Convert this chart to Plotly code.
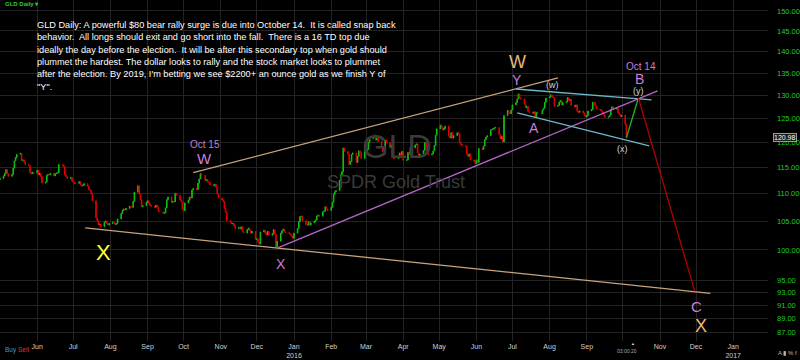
import math
import pandas as pd
import plotly.graph_objects as go

# ---------------- data (GLD daily closes, by month) ----------------
first_open = 112.7
c_2015_05 = [112.9, 113.4, 113.9, 114.6, 113.8, 113.3, 113.6, 114.9, 116.3, 117.0, 117.6, 117.8, 116.4, 116.5, 116.1, 115.6, 115.4, 114.0, 113.8, 114.1, 113.9]
c_2015_06 = [114.5, 113.6, 113.9, 113.3, 112.0, 112.2, 113.5, 113.7, 113.6, 113.9, 113.4, 113.8, 113.9, 114.0, 115.6, 115.5, 115.2, 113.6, 113.3, 112.9, 113.1, 112.4]
c_2015_07 = [112.2, 112.0, 111.9, 112.3, 111.7, 111.5, 111.6, 111.9, 111.4, 110.8, 110.6, 110.1, 108.7, 105.6, 105.1, 104.4, 104.5, 104.0, 104.8, 105.0, 104.6, 104.3, 104.6]
c_2015_08 = [104.8, 104.6, 104.4, 104.6, 105.4, 106.4, 106.9, 107.2, 107.0, 107.3, 107.7, 107.6, 107.5, 108.6, 110.3, 111.5, 110.0, 108.9, 107.6, 107.8, 108.4]
c_2015_09 = [108.7, 108.2, 107.8, 107.7, 107.5, 107.9, 107.6, 106.8, 106.7, 106.4, 106.5, 107.4, 108.9, 109.4, 108.4, 108.6, 108.5, 110.1, 109.7, 108.9, 108.6, 107.2]
c_2015_10 = [106.9, 108.3, 108.8, 109.4, 109.2, 110.7, 111.0, 110.8, 112.0, 112.8, 113.8, 113.5, 112.5, 112.7, 112.2, 112.1, 111.7, 111.5, 111.8, 111.2, 110.0, 109.2]
c_2015_11 = [108.9, 108.6, 107.3, 106.6, 105.1, 104.8, 104.5, 104.6, 104.2, 103.7, 103.9, 103.6, 104.0, 103.2, 102.9, 103.5, 103.8, 103.3, 102.9, 103.2, 101.8]
c_2015_12 = [101.9, 101.3, 101.0, 103.1, 103.4, 102.9, 102.6, 103.2, 102.5, 102.8, 103.5, 102.7, 100.5, 101.5, 102.9, 103.3, 103.6, 103.1, 103.0, 102.8, 102.6, 102.3, 102.0]
c_2016_01 = [102.9, 103.7, 104.9, 105.8, 105.9, 105.1, 104.4, 104.3, 104.9, 104.3, 104.7, 105.0, 105.2, 105.9, 106.1, 105.9, 106.7, 106.8, 107.6, 107.2, 106.9]
c_2016_02 = [107.5, 108.4, 109.9, 110.4, 110.6, 112.5, 113.6, 114.2, 118.9, 118.2, 117.6, 115.6, 116.2, 117.6, 117.9, 116.0, 117.2, 118.3, 118.1, 116.8, 118.6]
c_2016_03 = [117.8, 118.6, 120.0, 120.8, 121.2, 121.5, 120.5, 120.9, 120.2, 118.9, 118.2, 118.3, 120.5, 120.0, 119.0, 119.5, 117.3, 116.8, 116.8, 116.9, 117.9, 117.5, 118.2]
c_2016_04 = [116.4, 116.5, 118.0, 117.6, 119.0, 118.9, 119.5, 119.7, 117.9, 117.0, 117.6, 118.4, 120.0, 119.1, 118.4, 117.5, 117.7, 118.3, 119.4, 121.5, 122.8]
c_2016_05 = [123.6, 123.2, 122.6, 122.9, 123.4, 121.3, 120.9, 122.0, 120.9, 121.4, 122.0, 121.8, 119.9, 119.6, 119.4, 119.2, 117.6, 117.2, 117.7, 116.5, 116.3, 115.8]
c_2016_06 = [116.5, 116.0, 118.8, 118.6, 119.3, 120.6, 121.1, 121.4, 122.6, 122.7, 122.9, 123.0, 123.1, 121.6, 120.8, 121.2, 120.1, 125.6, 126.7, 126.3, 126.0, 126.8]
c_2016_07 = [127.9, 128.4, 129.2, 130.3, 129.3, 129.2, 128.1, 127.3, 127.6, 126.5, 126.3, 126.1, 126.4, 125.4, 126.3, 126.0, 126.0, 126.8, 127.2, 128.5, 129.4]
c_2016_08 = [129.6, 130.1, 129.7, 129.5, 127.6, 127.8, 128.5, 128.9, 127.9, 128.4, 128.6, 129.5, 128.9, 129.1, 127.8, 127.5, 127.9, 126.5, 126.3, 126.6, 126.2, 125.6, 125.3]
c_2016_09 = [125.6, 126.6, 126.9, 128.5, 128.4, 127.7, 127.0, 126.9, 126.6, 126.2, 125.7, 125.2, 125.3, 125.7, 126.9, 127.5, 127.0, 127.1, 126.2, 125.8, 125.4, 125.7]
c_2016_10 = [123.8, 120.98]

# trend lines (date, price)
tan_low_x = ["2015-07-11", "2016-12-13"]; tan_low_y = [103.8, 92.9]
tan_up_x = ["2015-10-09", "2016-08-08"]; tan_up_y = [114.0, 133.9]
purple_x = ["2015-12-19", "2016-10-30"]; purple_y = [100.4, 131.0]
cyan_top_x = ["2016-07-04", "2016-10-25"]; cyan_top_y = [131.4, 129.0]
cyan_bot_x = ["2016-07-05", "2016-10-23"]; cyan_bot_y = [126.2, 119.3]
proj_up_x = ["2016-10-04", "2016-10-14"]; proj_up_y = [120.98, 129.4]
proj_dn_x = ["2016-10-14", "2016-11-30"]; proj_dn_y = [129.4, 93.2]

# wave labels
wave_text = ["X", "Oct 15", "W", "X", "W", "Y", "(w)", "A", "Oct 14", "B", "(y)", "(x)", "C", "X"]
wave_x = ["2015-07-26", "2015-10-19", "2015-10-18", "2015-12-21", "2016-07-05", "2016-07-05",
          "2016-08-03", "2016-07-19", "2016-10-16", "2016-10-15", "2016-10-14", "2016-10-01",
          "2016-12-01", "2016-12-05"]
wave_y = [99.65, 119.5, 116.7, 97.6, 137.5, 133.5, 132.3, 123.0, 136.6, 133.6, 130.9, 118.7, 90.9, 87.9]
wave_kind = ["yellow", "purple_s", "purple", "purple_m", "tan", "purple_m", "white", "purple_m",
             "purple_s", "purple_m", "white", "white", "purple", "tan_s"]

y_ticks = [150, 145, 140, 135, 130, 125, 120, 115, 110, 105, 100, 95, 93, 91, 89, 87]
month_ticks = ["2015-06-01", "2015-07-01", "2015-08-01", "2015-09-01", "2015-10-01", "2015-11-01",
               "2015-12-01", "2016-01-01", "2016-02-01", "2016-03-01", "2016-04-01", "2016-05-01",
               "2016-06-01", "2016-07-01", "2016-08-01", "2016-09-01", "2016-10-01", "2016-11-01",
               "2016-12-01", "2017-01-01"]
month_labels = ["Jun", "Jul", "Aug", "Sep", "Oct", "Nov", "Dec", "Jan<br>2016", "Feb", "Mar", "Apr",
                "May", "Jun", "Jul", "Aug", "Sep", "", "Nov", "Dec", "Jan<br>2017"]

note_lines = [
    "GLD Daily: A powerful $80 bear rally surge is due into October 14.  It is called snap back",
    "behavior.  All longs should exit and go short into the fall.  There is a 16 TD top due",
    "ideally the day before the election.  It will be after this secondary top when gold should",
    "plummet the hardest. The dollar looks to rally and the stock market looks to plummet",
    "after the election. By 2019, I'm betting we see $2200+ an ounce gold as we finish Y of",
    "\"Y\".",
]

# ---------------- build candles ----------------
monthly = [("2015-05-01", c_2015_05), ("2015-06-01", c_2015_06), ("2015-07-01", c_2015_07),
           ("2015-08-01", c_2015_08), ("2015-09-01", c_2015_09), ("2015-10-01", c_2015_10),
           ("2015-11-01", c_2015_11), ("2015-12-01", c_2015_12), ("2016-01-01", c_2016_01),
           ("2016-02-01", c_2016_02), ("2016-03-01", c_2016_03), ("2016-04-01", c_2016_04),
           ("2016-05-01", c_2016_05), ("2016-06-01", c_2016_06), ("2016-07-01", c_2016_07),
           ("2016-08-01", c_2016_08), ("2016-09-01", c_2016_09), ("2016-10-01", c_2016_10)]
dates, closes = [], []
for start, vals in monthly:
    d = pd.bdate_range(start=start, periods=len(vals))
    dates.extend(list(d))
    closes.extend(vals)
opens = [first_open] + closes[:-1]
highs = [max(o, c) for o, c in zip(opens, closes)]
lows = [min(o, c) for o, c in zip(opens, closes)]

fig = go.Figure()
fig.add_trace(go.Candlestick(
    x=dates, open=opens, high=highs, low=lows, close=closes,
    increasing=dict(line=dict(color="#10c010", width=1), fillcolor="#10c010"),
    decreasing=dict(line=dict(color="#e00000", width=1), fillcolor="#e00000"),
    whiskerwidth=0, hoverinfo="skip"))

def add_line(xs, ys, color, w=1.3):
    fig.add_trace(go.Scatter(x=xs, y=ys, mode="lines", line=dict(color=color, width=w),
                             hoverinfo="skip"))

add_line(tan_low_x, tan_low_y, "#c9a27c")
add_line(tan_up_x, tan_up_y, "#c9a27c")
add_line(purple_x, purple_y, "#b567c9")
add_line(cyan_top_x, cyan_top_y, "#6db7c9")
add_line(cyan_bot_x, cyan_bot_y, "#6db7c9")
add_line(proj_up_x, proj_up_y, "#1fb51f")
add_line(proj_dn_x, proj_dn_y, "#b00000")

styles = {
    "yellow": dict(size=22, color="#ffff33"),
    "purple_s": dict(size=10, color="#c07fd4"),
    "purple": dict(size=15, color="#c77fd8"),
    "purple_m": dict(size=14, color="#c77fd8"),
    "tan": dict(size=18, color="#eab67d"),
    "tan_s": dict(size=18, color="#eab67d"),
    "white": dict(size=9, color="#d6d6d6"),
}
for t, x, y, k in zip(wave_text, wave_x, wave_y, wave_kind):
    f = dict(family="Liberation Sans, Arial, sans-serif")
    f.update(styles[k])
    fig.add_annotation(x=x, y=math.log10(y), text=t, showarrow=False, font=f,
                       xanchor="center", yanchor="middle")

# watermark
fig.add_annotation(xref="paper", yref="paper", x=0.517, y=0.572, text="GLD", showarrow=False,
                   font=dict(size=34, color="#3a3a3a", family="Liberation Sans, Arial"))
fig.add_annotation(xref="paper", yref="paper", x=0.516, y=0.466, text="SPDR Gold Trust",
                   showarrow=False, font=dict(size=18, color="#3a3a3a", family="Liberation Sans, Arial"))

# commentary text
for i, line in enumerate(note_lines):
    fig.add_annotation(xref="paper", yref="paper", x=35 / 770, y=1 - (25 + 12.3 * i) / 341,
                       text=line, showarrow=False, xanchor="left", yanchor="middle",
                       font=dict(size=9.2, color="#ffffff", family="Liberation Sans, Arial"))

# small chrome texts
fig.add_annotation(xref="paper", yref="paper", x=3 / 770, y=1 - 4 / 341, text="<b>GLD Daily ▾</b>",
                   showarrow=False, xanchor="left", yanchor="middle",
                   font=dict(size=6, color="#33cc33", family="Liberation Sans, Arial"))
fig.add_annotation(xref="paper", yref="paper", x=3 / 770, y=-9 / 341,
                   text="<span style='color:#3399ff'>Buy</span> <span style='color:#ff2222'>Sell</span>",
                   showarrow=False, xanchor="left", yanchor="middle",
                   font=dict(size=6.5, family="Liberation Sans, Arial"))
fig.add_annotation(xref="paper", yref="paper", x=629 / 770, y=-10 / 341, text="03:00:20",
                   showarrow=False, xanchor="center", yanchor="middle",
                   font=dict(size=5, color="#aaaaaa", family="Liberation Sans, Arial"))
fig.add_annotation(xref="paper", yref="paper", x=635 / 770, y=-2 / 341, text="▲",
                   showarrow=False, xanchor="center", yanchor="middle",
                   font=dict(size=4, color="#dddddd"))
fig.add_annotation(xref="paper", y=math.log10(closes[-1]), x=787 / 770, text=f"{closes[-1]:.2f}",
                   showarrow=False, xanchor="center", yanchor="middle", bgcolor="#1c1c1c",
                   bordercolor="#9a9a9a", borderwidth=1, borderpad=0,
                   font=dict(size=7, color="#ffffff", family="Liberation Sans, Arial"))
fig.add_annotation(xref="paper", yref="paper", x=790 / 770, y=-12 / 341, text="A ▮ % f",
                   showarrow=False, xanchor="center", yanchor="middle",
                   font=dict(size=6, color="#bbbbbb", family="Liberation Sans, Arial"))

fig.update_layout(
    width=800, height=360, margin=dict(l=0, r=30, t=0, b=19),
    paper_bgcolor="#000000", plot_bgcolor="#000000", showlegend=False,
    xaxis=dict(type="date", range=["2015-05-01", "2017-01-30"], tickvals=month_ticks,
               ticktext=month_labels, tickfont=dict(size=7, color="#d0d0d0", family="Liberation Sans, Arial"),
               showgrid=True, gridcolor="#232323", gridwidth=1, zeroline=False, ticks="",
               rangeslider=dict(visible=False), showline=False),
    yaxis=dict(type="log", range=[1.93289, 2.18419], side="right", tickvals=y_ticks,
               ticktext=[f"{v:.2f}" for v in y_ticks],
               tickfont=dict(size=7.5, color="#22cc22", family="Liberation Sans, Arial"),
               showgrid=True, gridcolor="#232323", gridwidth=1, zeroline=False, ticks="",
               ticklabelstandoff=8, showline=False),
)

fig.write_html("out.html", config={"displayModeBar": False},
               post_script="document.body.style.margin='0';document.body.style.background='#000';")
